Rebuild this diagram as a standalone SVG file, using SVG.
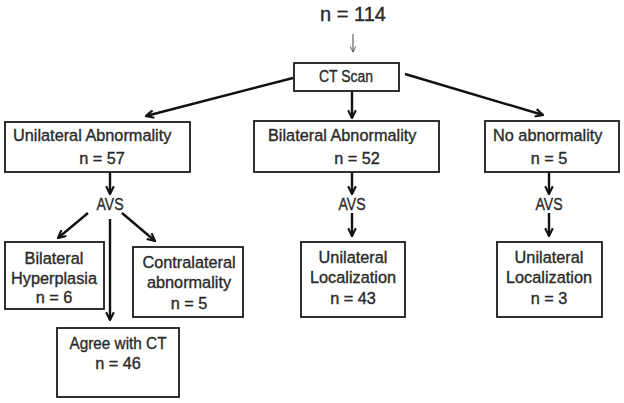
<svg xmlns="http://www.w3.org/2000/svg" width="624" height="403" viewBox="0 0 624 403">
<defs>
<marker id="ah" viewBox="0 0 10 10" refX="9" refY="5" markerWidth="4" markerHeight="4" orient="auto" markerUnits="strokeWidth">
<path d="M1,1 L9,5 L1,9" fill="none" stroke="#111" stroke-width="2.2"/>
</marker>
<marker id="ahs" viewBox="0 0 10 10" refX="9" refY="5" markerWidth="7" markerHeight="7" orient="auto" markerUnits="strokeWidth">
<path d="M1,1 L9,5 L1,9" fill="none" stroke="#444" stroke-width="1.2"/>
</marker>
<style>
.box{fill:#fff;stroke:#1a1a1a;stroke-width:1.8}
.t{font-family:"Liberation Sans",Arial,sans-serif;font-size:16.3px;fill:#2a2a2a;stroke:#2a2a2a;stroke-width:0.35;text-anchor:middle}
.tl{font-family:"Liberation Sans",Arial,sans-serif;font-size:16.3px;fill:#2a2a2a;stroke:#2a2a2a;stroke-width:0.35}
.c{stroke:#111;stroke-width:2.4;fill:none;marker-end:url(#ah)}
.cs{stroke:#444;stroke-width:1;fill:none;marker-end:url(#ahs)}
</style>
</defs>
<g id="connectors">
<line class="cs" x1="353" y1="34" x2="353" y2="52"/>
<line class="c" x1="293" y1="78" x2="146" y2="116"/>
<line class="c" x1="352" y1="91" x2="352" y2="118"/>
<line class="c" x1="405" y1="74" x2="543" y2="115"/>
<line class="c" x1="110" y1="172" x2="110" y2="194"/>
<line class="c" x1="352" y1="172" x2="352" y2="194"/>
<line class="c" x1="549" y1="172" x2="549" y2="194"/>
<line class="c" x1="352" y1="213" x2="352" y2="236"/>
<line class="c" x1="549" y1="213" x2="549" y2="236"/>
<line class="c" x1="88" y1="213" x2="58" y2="238"/>
<line class="c" x1="122" y1="213" x2="155" y2="241"/>
<line class="c" x1="110" y1="219" x2="110" y2="320"/>
</g>
<g id="total"><text x="353" y="21" class="t" style="font-size:20px">n = 114</text></g>
<g id="ctscan"><rect class="box" x="294" y="63" width="105" height="28"/><text x="346" y="82" class="t" textLength="54" lengthAdjust="spacingAndGlyphs">CT Scan</text></g>
<g id="unilateral"><rect class="box" x="5" y="122" width="185" height="50"/><text x="13" y="141" class="tl">Unilateral Abnormality</text><text x="102" y="164" class="t">n = 57</text></g>
<g id="avs1"><text x="110" y="210" class="t" textLength="27" lengthAdjust="spacingAndGlyphs">AVS</text></g>
<g id="bilateral"><rect class="box" x="254" y="121" width="185" height="51"/><text x="268" y="141" class="tl">Bilateral Abnormality</text><text x="357" y="164" class="t">n = 52</text></g>
<g id="avs2"><text x="352" y="210" class="t" textLength="27" lengthAdjust="spacingAndGlyphs">AVS</text></g>
<g id="noabn"><rect class="box" x="485" y="121" width="134" height="51"/><text x="493" y="141" class="tl">No abnormality</text><text x="549" y="164" class="t">n = 5</text></g>
<g id="avs3"><text x="549" y="210" class="t" textLength="27" lengthAdjust="spacingAndGlyphs">AVS</text></g>
<g id="hyperplasia"><rect class="box" x="5" y="242" width="99" height="67"/><text x="54" y="264" class="t">Bilateral</text><text x="54" y="284" class="t">Hyperplasia</text><text x="54" y="303" class="t">n = 6</text></g>
<g id="contralateral"><rect class="box" x="133" y="247" width="110" height="70"/><text x="189" y="268" class="t">Contralateral</text><text x="189" y="288" class="t">abnormality</text><text x="189" y="309" class="t">n = 5</text></g>
<g id="agree"><rect class="box" x="57" y="328" width="122" height="69"/><text x="118" y="349" class="t" textLength="97" lengthAdjust="spacingAndGlyphs">Agree with CT</text><text x="118" y="369" class="t">n = 46</text></g>
<g id="unilat43"><rect class="box" x="301" y="242" width="104" height="75"/><text x="353" y="263" class="t">Unilateral</text><text x="353" y="283" class="t">Localization</text><text x="353" y="304" class="t">n = 43</text></g>
<g id="unilat3"><rect class="box" x="497" y="242" width="105" height="75"/><text x="549" y="263" class="t">Unilateral</text><text x="549" y="283" class="t">Localization</text><text x="549" y="304" class="t">n = 3</text></g>
</svg>
